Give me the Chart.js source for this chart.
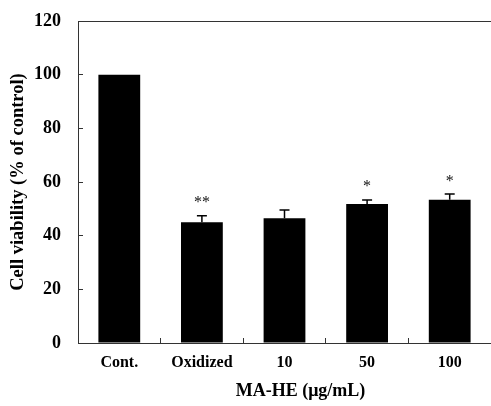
<!DOCTYPE html>
<html>
<head>
    <meta charset="utf-8" />
    <title></title>
    <style>
        body { margin: 0; background: #fff; overflow: hidden; }
        #wrap { width: 491px; height: 406px; }
    </style>
</head>
<body>
    <div id="wrap"><canvas id="barChart"></canvas></div>

    <script src="https://cdn.jsdelivr.net/npm/chart.js@4/dist/chart.umd.min.js"></script>
    <script>
        const categories = ['Cont.', 'Oxidized', '10', '50', '100'];
        const viability = [100, 45, 46.5, 51.8, 53.4];
        const errors = [0, 2.4, 3.1, 1.5, 2.1];
        const marks = ['', '**', '', '*', '*'];
        const xTitle = 'MA-HE (\u03bcg/mL)';
        const yTitle = 'Cell viability (% of control)';

        const serif = "'Liberation Serif', 'Times New Roman', serif";
        const axisColor = '#333';

        // error bars, significance stars, top frame line and the x title
        const extras = {
            id: 'extras',
            afterDatasetsDraw(chart) {
                const ctx = chart.ctx;
                const y = chart.scales.y;
                const meta = chart.getDatasetMeta(0);
                ctx.save();
                ctx.strokeStyle = '#000';
                ctx.lineWidth = 1.5;
                meta.data.forEach((bar, i) => {
                    const top = y.getPixelForValue(viability[i] + errors[i]);
                    if (errors[i] > 0) {
                        ctx.beginPath();
                        ctx.moveTo(bar.x, y.getPixelForValue(viability[i]));
                        ctx.lineTo(bar.x, top);
                        ctx.moveTo(bar.x - 5, top);
                        ctx.lineTo(bar.x + 5, top);
                        ctx.stroke();
                    }
                    if (marks[i]) {
                        ctx.fillStyle = '#111';
                        ctx.font = '16px ' + serif;
                        ctx.textAlign = 'center';
                        ctx.textBaseline = 'alphabetic';
                        ctx.fillText(marks[i], bar.x, top - 8.5);
                    }
                });
                ctx.restore();
            },
            afterDraw(chart) {
                const ctx = chart.ctx;
                const area = chart.chartArea;
                ctx.save();
                ctx.strokeStyle = axisColor;
                ctx.lineWidth = 1;
                ctx.beginPath();
                ctx.moveTo(area.left, Math.round(area.top) + 0.5);
                ctx.lineTo(area.right, Math.round(area.top) + 0.5);
                ctx.stroke();
                ctx.fillStyle = '#000';
                ctx.font = 'bold 18px ' + serif;
                ctx.textAlign = 'center';
                ctx.textBaseline = 'middle';
                ctx.fillText(xTitle, (area.left + area.right) / 2 + 16, 391);
                ctx.restore();
            }
        };

        function drawChart() {
            const ctx = document.getElementById('barChart');
            new Chart(ctx, {
                type: 'bar',
                data: {
                    labels: categories,
                    datasets: [{
                        data: viability,
                        backgroundColor: '#000',
                        borderWidth: 0,
                        barPercentage: 0.506,
                        categoryPercentage: 1
                    }]
                },
                options: {
                    responsive: true,
                    maintainAspectRatio: false,
                    animation: false,
                    layout: { padding: 0 },
                    plugins: {
                        legend: { display: false },
                        tooltip: { enabled: false }
                    },
                    scales: {
                        x: {
                            grid: {
                                drawOnChartArea: false,
                                tickLength: -5,
                                color: axisColor,
                                offset: true
                            },
                            border: { color: axisColor, width: 1 },
                            ticks: {
                                color: '#000',
                                padding: 15,
                                maxRotation: 0,
                                font: { family: serif, size: 16, weight: 'bold' }
                            },
                            afterFit: (scale) => { scale.height = 63; }
                        },
                        y: {
                            min: 0,
                            max: 120,
                            grid: {
                                drawOnChartArea: false,
                                tickLength: -5,
                                color: axisColor
                            },
                            border: { color: axisColor, width: 1 },
                            ticks: {
                                stepSize: 20,
                                color: '#000',
                                padding: 22,
                                font: { family: serif, size: 18, weight: 'bold' }
                            },
                            title: {
                                display: true,
                                text: yTitle,
                                color: '#000',
                                padding: { top: 7, bottom: 0 },
                                font: { family: serif, size: 18.5, weight: 'bold' }
                            },
                            afterFit: (scale) => {
                                scale.width = 78;
                                scale.paddingTop = 21;
                                scale.paddingBottom = 0;
                            }
                        }
                    }
                },
                plugins: [extras]
            });
        }

        drawChart();
    </script>
</body>
</html>
